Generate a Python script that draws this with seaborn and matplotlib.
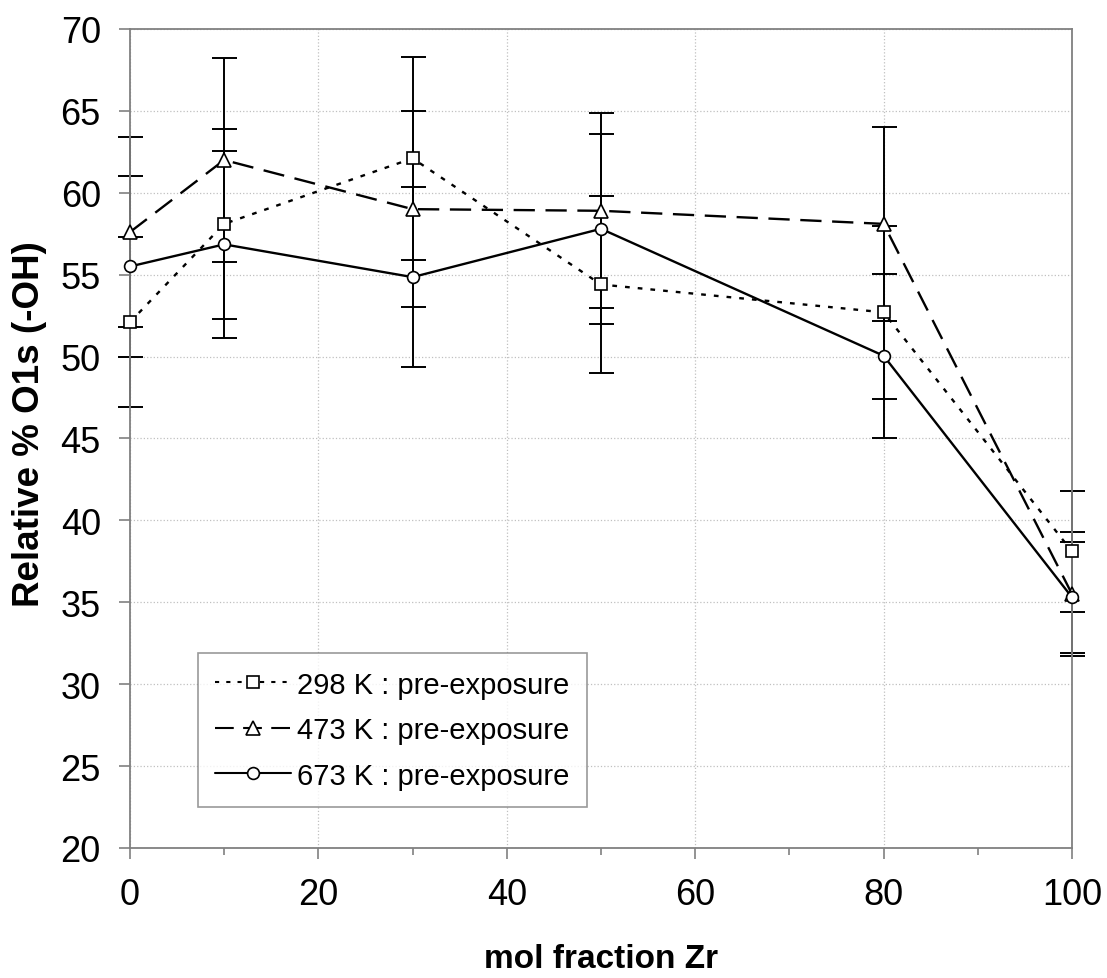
import matplotlib
matplotlib.use("Agg")
import matplotlib.pyplot as plt
import seaborn as sns
import pandas as pd
import numpy as np
from matplotlib.ticker import MultipleLocator

# ---- data ----
mol_fraction_zr = [0, 10, 30, 50, 80, 100]
series_labels = ["298 K : pre-exposure", "473 K : pre-exposure", "673 K : pre-exposure"]
vals_298 = [52.1, 58.1, 62.1, 54.4, 52.7, 38.1]
err_298 = [5.2, 5.8, 6.2, 5.4, 5.3, 3.7]
vals_473 = [57.6, 62.0, 59.0, 58.9, 58.1, 35.5]
err_473 = [5.8, 6.2, 6.0, 5.95, 5.9, 3.8]
vals_673 = [55.5, 56.85, 54.85, 57.8, 50.05, 35.3]
err_673 = [5.5, 5.7, 5.5, 5.8, 5.0, 3.4]
x_ticks = [0, 20, 40, 60, 80, 100]
y_ticks = [20, 25, 30, 35, 40, 45, 50, 55, 60, 65, 70]

sns.set_theme(style="white")
plt.rcParams["font.family"] = ["Liberation Sans", "DejaVu Sans"]
plt.rcParams["text.color"] = "black"
plt.rcParams["axes.labelcolor"] = "black"

fig = plt.figure(figsize=(11.07, 9.79), dpi=100)
ax = fig.add_axes([0.1174, 0.1328, 0.851, 0.8366])

values = [vals_298, vals_473, vals_673]
errors = [err_298, err_473, err_673]
markers = ["s", "^", "o"]
dashes = [(0, (2.0, 3.4)), (0, (9.0, 4.5)), "-"]

for lab, v, e, m, d in zip(series_labels, values, errors, markers, dashes):
    df = pd.DataFrame({"x": mol_fraction_zr, "y": v})
    eb = ax.errorbar(mol_fraction_zr, v, yerr=e, fmt="none", ecolor="black",
                     elinewidth=1.4, capsize=9, capthick=1.4, zorder=2)
    for art in eb.get_children():
        art.set_clip_on(False)
    sns.lineplot(data=df, x="x", y="y", ax=ax, color="black", lw=1.7,
                 linestyle=d, marker=m, markersize=9.5 if m == "^" else 8.5,
                 markerfacecolor="white", markeredgecolor="black",
                 markeredgewidth=1.2, label=lab, zorder=3, clip_on=False)

ax.set_xlim(0, 100)
ax.set_ylim(20, 70)
ax.set_xticks(x_ticks)
ax.set_yticks(y_ticks)
ax.xaxis.set_minor_locator(MultipleLocator(10))
ax.grid(True, which="major", ls=":", color="#c0c0c0", lw=0.9)
ax.set_axisbelow(True)

for s in ax.spines.values():
    s.set_color("#808080")
    s.set_linewidth(1.3)
    s.set_visible(True)

ax.tick_params(axis="both", which="major", direction="out", length=8,
               width=1.2, color="#808080", labelsize=26, pad=13,
               labelcolor="black", bottom=True, left=True)
ax.tick_params(axis="x", which="minor", direction="out", length=5,
               width=1.2, color="#808080", bottom=True)

ax.set_xlabel("mol fraction Zr", fontsize=24, fontweight="bold")
ax.xaxis.set_label_coords(0.5, -0.116)
ax.set_ylabel("Relative % O1s (-OH)", fontsize=26.5, fontweight="bold")
ax.yaxis.set_label_coords(-0.088, 0.519)

leg = ax.legend(loc="lower left", bbox_to_anchor=(0.072, 0.05), fontsize=21,
                frameon=True, fancybox=False, edgecolor="#808080",
                handlelength=2.6, handletextpad=0.2, labelspacing=0.6,
                borderpad=0.6, borderaxespad=0)
leg.get_frame().set_linewidth(1.2)
for t in leg.get_texts():
    t.set_color("black")
for h in leg.legend_handles:
    h.set_linewidth(1.5)

fig.savefig("out.png", dpi=100, facecolor="white")
